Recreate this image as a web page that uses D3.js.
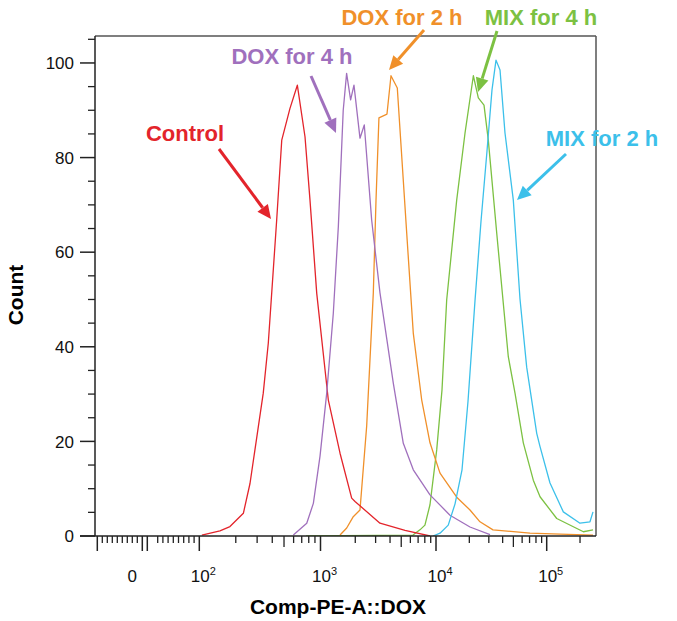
<!DOCTYPE html>
<html>
<head>
<meta charset="utf-8">
<script src="https://cdn.jsdelivr.net/npm/d3@7"></script>
<style>
  html, body { margin: 0; padding: 0; background: #fff; }
  svg { display: block; font-family: "Liberation Sans", Arial, sans-serif; }
</style>
</head>
<body>
<svg id="chart" width="677" height="621"></svg>
<script>
// ---------------- data (intensity on Comp-PE-A::DOX, cell count) ----------------
const seriesNames = ["Control", "DOX for 4 h", "DOX for 2 h", "MIX for 4 h", "MIX for 2 h"];
const seriesColors = ["#e3242b", "#a070bd", "#f0902a", "#7cc142", "#3cc0ea"];

const controlIntensity = [105, 148, 179, 231, 262, 337, 371, 435, 479, 560, 644, 745, 819, 931, 1168, 1476, 1862, 1990, 3273, 5390, 8870];
const controlCount     = [0.2, 1.1, 2.0, 4.8, 11.1, 30.2, 40.8, 66.8, 83.7, 90.4, 95.3, 84.4, 71.0, 51.3, 28.8, 17.5, 8.0, 7.3, 2.7, 1.2, 0.0];

const dox4Intensity = [597, 770, 873, 991, 1132, 1291, 1427, 1573, 1683, 1823, 1949, 2197, 2394, 2773, 3273, 4268, 5210, 6360, 8870, 13370, 20280, 30770];
const dox4Count     = [0.2, 2.7, 6.9, 16.9, 30.2, 47.1, 65.4, 90.0, 97.8, 92.2, 95.3, 84.1, 86.9, 66.8, 51.4, 32.3, 19.6, 14.0, 8.7, 4.4, 1.9, 0.3];

const dox2Intensity = [1476, 1686, 1911, 2197, 2512, 2866, 3024, 3206, 3764, 4076, 4623, 5575, 6357, 7515, 8870, 10870, 15380, 20280, 24960, 32730, 70600, 131900, 262000];
const dox2Count     = [0.2, 1.7, 4.0, 5.5, 23.3, 51.4, 71.0, 88.4, 89.2, 97.3, 94.7, 64.1, 42.9, 28.8, 19.7, 13.3, 8.2, 5.5, 3.0, 1.3, 0.6, 0.4, 0.2];

const mix4Intensity = [760, 6320, 7260, 8020, 8870, 10150, 11330, 12490, 15380, 18290, 21750, 24120, 27140, 29680, 35340, 44990, 51730, 61480, 75680, 87050, 123200, 214500, 262000];
const mix4Count     = [0.0, 0.2, 1.3, 2.3, 6.6, 18.2, 30.9, 49.9, 71.0, 85.2, 97.3, 92.6, 91.1, 83.7, 64.1, 37.9, 30.2, 19.7, 11.8, 8.3, 3.7, 0.9, 1.3];

const mix2Intensity = [9420, 10870, 12900, 14860, 17180, 19460, 22500, 25510, 28890, 32050, 34840, 37870, 42000, 49930, 57380, 65950, 81260, 87050, 107100, 141300, 199900, 246000, 262000];
const mix2Count     = [0.0, 0.6, 2.3, 6.8, 14.0, 28.5, 49.7, 66.6, 81.4, 94.3, 100.6, 98.5, 85.2, 71.0, 50.1, 35.7, 21.7, 18.9, 11.2, 5.1, 2.7, 3.0, 5.1];

const yTickValues = [0, 20, 40, 60, 80, 100];
const xMajorTicks = [-100, -10, 0, 100, 1000, 10000, 100000];
const xLabelTicks = [0, 100, 1000, 10000, 100000];
const xLabelExp   = [null, "2", "3", "4", "5"];

// ---------------- layout ----------------
const svg = d3.select("#chart");
const pLeft = 95, pRight = 596, pTop = 36, pBottom = 536;

// biexponential-like transform: log above 100, linear extension below
const tf = v => v >= 100 ? Math.log10(v) : 2 + (v - 100) / (100 * Math.LN10);
const xLin = d3.scaleLinear()
  .domain([tf(-100), tf(0), 2, 3, 4, 5])
  .range([97.3, 147.3, 199.3, 320.5, 436, 546.7]);
const x = v => xLin(tf(v));
const y = d3.scaleLinear().domain([0, 105.7]).range([pBottom, pTop]);

// clip
svg.append("defs").append("clipPath").attr("id", "clip")
  .append("rect").attr("x", pLeft).attr("y", pTop).attr("width", pRight - pLeft).attr("height", pBottom - pTop);

// curves
const series = [
  [controlIntensity, controlCount],
  [dox4Intensity, dox4Count],
  [dox2Intensity, dox2Count],
  [mix4Intensity, mix4Count],
  [mix2Intensity, mix2Count]
];
const line = d3.line().x(d => x(d[0])).y(d => y(d[1]));
const gCurves = svg.append("g").attr("clip-path", "url(#clip)");
[3, 2, 0, 1, 4].forEach(i => {
  const pts = series[i][0].map((v, k) => [v, series[i][1][k]]);
  gCurves.append("path").attr("d", line(pts))
    .attr("fill", "none").attr("stroke", seriesColors[i]).attr("stroke-width", 1.3)
    .attr("stroke-linejoin", "round");
});

// frame: top & right
svg.append("line").attr("x1", pLeft).attr("x2", pRight).attr("y1", pTop).attr("y2", pTop)
  .attr("stroke", "#555").attr("stroke-width", 1.5);
svg.append("line").attr("x1", pRight).attr("x2", pRight).attr("y1", pTop).attr("y2", pBottom)
  .attr("stroke", "#555").attr("stroke-width", 1.5);

// y axis
const yMinor = d3.range(0, 106, 5).filter(v => v % 20 !== 0);
const gy = svg.append("g");
gy.append("line").attr("x1", pLeft).attr("x2", pLeft).attr("y1", pTop).attr("y2", pBottom)
  .attr("stroke", "#222").attr("stroke-width", 1.5);
yTickValues.forEach(v => {
  gy.append("line").attr("x1", 80).attr("x2", pLeft).attr("y1", y(v)).attr("y2", y(v))
    .attr("stroke", "#222").attr("stroke-width", 1.5);
  gy.append("text").attr("x", 74).attr("y", y(v)).attr("dy", "0.36em")
    .attr("text-anchor", "end").attr("font-size", 17).attr("fill", "#111").text(v);
});
yMinor.forEach(v => {
  gy.append("line").attr("x1", 88).attr("x2", pLeft).attr("y1", y(v)).attr("y2", y(v))
    .attr("stroke", "#222").attr("stroke-width", 1.3);
});

// x axis
const gx = svg.append("g");
gx.append("line").attr("x1", 80).attr("x2", pRight).attr("y1", pBottom).attr("y2", pBottom)
  .attr("stroke", "#222").attr("stroke-width", 1.5);
const xMinor = [];
d3.range(-90, -10, 10).forEach(v => xMinor.push(v));
d3.range(20, 100, 10).forEach(v => xMinor.push(v));
[100, 1000, 10000].forEach(d => d3.range(2, 10).forEach(m => xMinor.push(m * d)));
xMinor.push(200000);
xMinor.forEach(v => {
  const len = (Math.abs(v) >= 100 && String(v)[0] === "5") ? 11 : 7;
  gx.append("line").attr("x1", x(v)).attr("x2", x(v)).attr("y1", pBottom).attr("y2", pBottom + len)
    .attr("stroke", "#222").attr("stroke-width", 1.3);
});
xMajorTicks.forEach(v => {
  gx.append("line").attr("x1", x(v)).attr("x2", x(v)).attr("y1", pBottom).attr("y2", pBottom + 15)
    .attr("stroke", "#222").attr("stroke-width", 1.5);
});
xLabelTicks.forEach((v, i) => {
  const t = gx.append("text").attr("y", 582).attr("font-size", 17).attr("fill", "#111")
    .attr("text-anchor", "middle");
  if (xLabelExp[i] === null) {
    t.attr("x", x(v) - 15).text("0");
  } else {
    t.attr("x", x(v) + 4);
    t.append("tspan").text("10");
    t.append("tspan").attr("dy", -7).attr("font-size", 11).text(xLabelExp[i]);
  }
});

// axis titles
svg.append("text").attr("x", 338).attr("y", 614).attr("text-anchor", "middle")
  .attr("font-size", 21).attr("font-weight", "bold").attr("fill", "#000").text("Comp-PE-A::DOX");
svg.append("text").attr("transform", "translate(23,295) rotate(-90)").attr("text-anchor", "middle")
  .attr("font-size", 21).attr("font-weight", "bold").attr("fill", "#000").text("Count");

// annotations
const notes = [
  { i: 0, tx: 185, ty: 141, x1: 219, y1: 149, x2: 271, y2: 219 },
  { i: 1, tx: 292, ty: 64,  x1: 311, y1: 76,  x2: 336, y2: 133 },
  { i: 2, tx: 402, ty: 25,  x1: 424, y1: 30,  x2: 389, y2: 70 },
  { i: 3, tx: 541, ty: 25,  x1: 497, y1: 31,  x2: 478, y2: 92 },
  { i: 4, tx: 602, ty: 146, x1: 566, y1: 154, x2: 517, y2: 200 }
];
notes.forEach(n => {
  const c = seriesColors[n.i];
  svg.append("text").attr("x", n.tx).attr("y", n.ty).attr("text-anchor", "middle")
    .attr("font-size", 22).attr("font-weight", "bold").attr("fill", c).text(seriesNames[n.i]);
  const dx = n.x2 - n.x1, dy = n.y2 - n.y1, L = Math.hypot(dx, dy);
  const ux = dx / L, uy = dy / L, head = 14, hw = 6.5;
  const bx = n.x2 - ux * head, by = n.y2 - uy * head;
  svg.append("line").attr("x1", n.x1).attr("y1", n.y1).attr("x2", bx).attr("y2", by)
    .attr("stroke", c).attr("stroke-width", 3);
  svg.append("path")
    .attr("d", `M${n.x2},${n.y2}L${bx - uy * hw},${by + ux * hw}L${bx + uy * hw},${by - ux * hw}Z`)
    .attr("fill", c);
});
</script>
</body>
</html>
